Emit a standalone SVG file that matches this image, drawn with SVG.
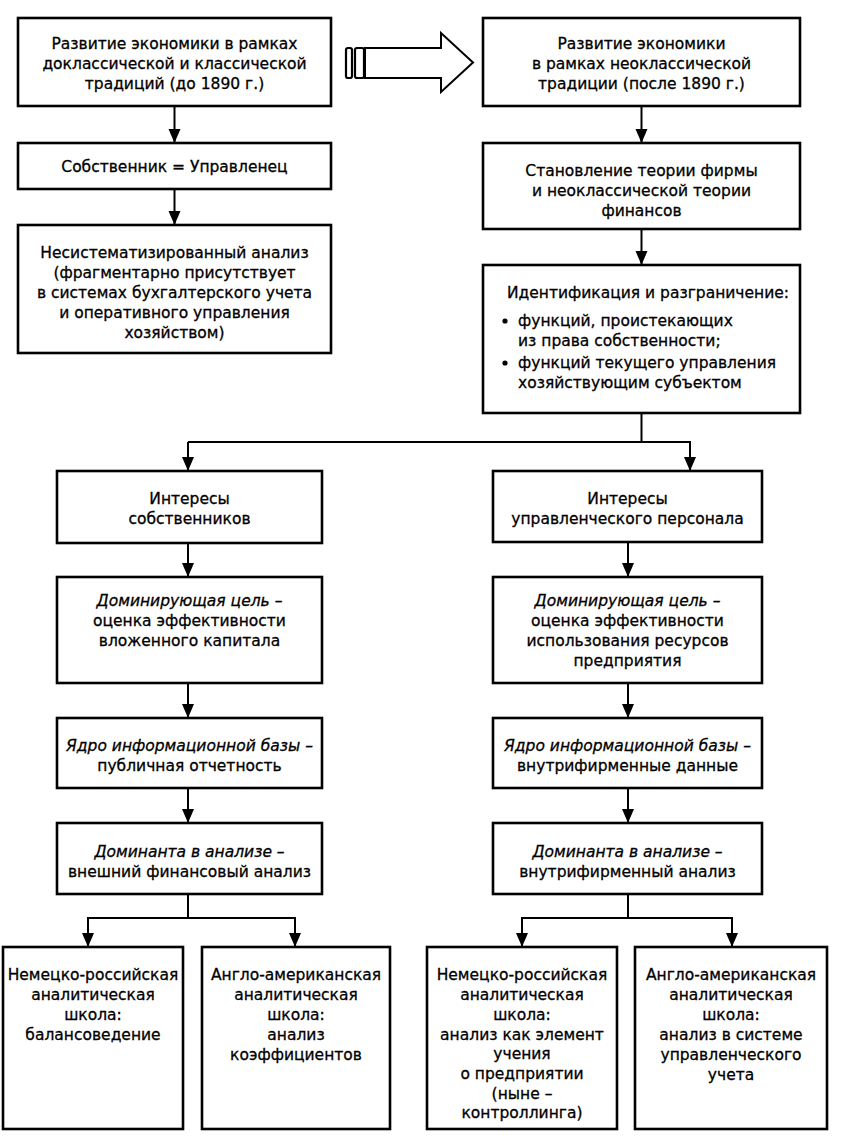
<svg xmlns="http://www.w3.org/2000/svg" width="843" height="1146" viewBox="0 0 843 1146">
<defs>
<style>
.box{fill:#fff;stroke:#000;stroke-width:2.6}
.t{font-family:"DejaVu Sans","Liberation Sans",sans-serif;font-size:15.5px;fill:#000;stroke:#000;stroke-width:0.3;text-anchor:middle}
.i{font-style:italic}
.l{text-anchor:start}
.c{fill:none;stroke:#000;stroke-width:2}
</style>
<marker id="ah" markerUnits="userSpaceOnUse" markerWidth="16" markerHeight="14" refX="14" refY="6" orient="auto" viewBox="0 0 16 14">
<path d="M0,0 L14,6 L0,12 z" fill="#000"/>
</marker>
</defs>
<rect width="843" height="1146" fill="#fff"/>

<g id="connectors">
<line class="c" x1="174.5" y1="106" x2="174.5" y2="143" marker-end="url(#ah)"/>
<line class="c" x1="174.5" y1="189" x2="174.5" y2="225" marker-end="url(#ah)"/>
<line class="c" x1="641.5" y1="106" x2="641.5" y2="143" marker-end="url(#ah)"/>
<line class="c" x1="641.5" y1="229" x2="641.5" y2="265" marker-end="url(#ah)"/>
<polyline class="c" points="641.5,413 641.5,442 188,442"/>
<line class="c" x1="188" y1="442" x2="188" y2="471" marker-end="url(#ah)"/>
<line class="c" x1="641.5" y1="442" x2="690" y2="442"/>
<line class="c" x1="690" y1="441" x2="690" y2="471" marker-end="url(#ah)"/>
<line class="c" x1="188" y1="543" x2="188" y2="577" marker-end="url(#ah)"/>
<line class="c" x1="188" y1="683" x2="188" y2="718" marker-end="url(#ah)"/>
<line class="c" x1="188" y1="788" x2="188" y2="823" marker-end="url(#ah)"/>
<line class="c" x1="628" y1="542" x2="628" y2="577" marker-end="url(#ah)"/>
<line class="c" x1="628" y1="683" x2="628" y2="718" marker-end="url(#ah)"/>
<line class="c" x1="628" y1="788" x2="628" y2="823" marker-end="url(#ah)"/>
<polyline class="c" points="188,894 188,918 88,918 88,947" marker-end="url(#ah)"/>
<polyline class="c" points="188,918 295,918 295,947" marker-end="url(#ah)"/>
<polyline class="c" points="628,894 628,918 522,918 522,947" marker-end="url(#ah)"/>
<polyline class="c" points="628,918 732,918 732,947" marker-end="url(#ah)"/>
</g>

<g id="transition-arrow">
<rect x="346" y="48" width="6" height="30" rx="2" fill="#fff" stroke="#000" stroke-width="2.2"/>
<rect x="355" y="48" width="9" height="30" rx="2" fill="#fff" stroke="#000" stroke-width="2.2"/>
<polygon points="365,48 441,48 441,33 473,62.5 441,92 441,78 365,78" fill="#fff" stroke="#000" stroke-width="2" stroke-linejoin="miter"/>
</g>

<g id="n-classic">
<rect class="box" x="18" y="18" width="313" height="88"/>
<text class="t" x="174.5" y="49">Развитие экономики в рамках</text>
<text class="t" x="174.5" y="69">доклассической и классической</text>
<text class="t" x="174.5" y="89">традиций (до 1890 г.)</text>
</g>

<g id="n-owner-manager">
<rect class="box" x="18" y="143" width="313" height="46"/>
<text class="t" x="174.5" y="172">Собственник = Управленец</text>
</g>

<g id="n-unsystematic">
<rect class="box" x="18" y="225" width="313" height="128"/>
<text class="t" x="174.5" y="258">Несистематизированный анализ</text>
<text class="t" x="174.5" y="278">(фрагментарно присутствует</text>
<text class="t" x="174.5" y="298">в системах бухгалтерского учета</text>
<text class="t" x="174.5" y="318">и оперативного управления</text>
<text class="t" x="174.5" y="338">хозяйством)</text>
</g>

<g id="n-neoclassic">
<rect class="box" x="483" y="18" width="317" height="88"/>
<text class="t" x="641.5" y="49">Развитие экономики</text>
<text class="t" x="641.5" y="69">в рамках неоклассической</text>
<text class="t" x="641.5" y="89">традиции (после 1890 г.)</text>
</g>

<g id="n-theory">
<rect class="box" x="483" y="143" width="317" height="86"/>
<text class="t" x="641.5" y="176">Становление теории фирмы</text>
<text class="t" x="641.5" y="196">и неоклассической теории</text>
<text class="t" x="641.5" y="216">финансов</text>
</g>

<g id="n-identification">
<rect class="box" x="483" y="265" width="317" height="148"/>
<text class="t" x="648" y="298">Идентификация и разграничение:</text>
<circle cx="505" cy="321" r="2.6" fill="#000"/>
<text class="t l" x="518" y="326">функций, проистекающих</text>
<text class="t l" x="518" y="346">из права собственности;</text>
<circle cx="505" cy="363" r="2.6" fill="#000"/>
<text class="t l" x="518" y="368">функций текущего управления</text>
<text class="t l" x="518" y="388">хозяйствующим субъектом</text>
</g>

<g id="n-owners-interests">
<rect class="box" x="57" y="471" width="265" height="72"/>
<text class="t" x="189.5" y="504">Интересы</text>
<text class="t" x="189.5" y="524">собственников</text>
</g>

<g id="n-managers-interests">
<rect class="box" x="493" y="471" width="269" height="71"/>
<text class="t" x="627.5" y="504">Интересы</text>
<text class="t" x="627.5" y="524">управленческого персонала</text>
</g>

<g id="n-goal-left">
<rect class="box" x="57" y="577" width="265" height="106"/>
<text class="t i" x="189.5" y="606">Доминирующая цель –</text>
<text class="t" x="189.5" y="626">оценка эффективности</text>
<text class="t" x="189.5" y="646">вложенного капитала</text>
</g>

<g id="n-goal-right">
<rect class="box" x="493" y="577" width="269" height="106"/>
<text class="t i" x="627.5" y="606">Доминирующая цель –</text>
<text class="t" x="627.5" y="626">оценка эффективности</text>
<text class="t" x="627.5" y="646">использования ресурсов</text>
<text class="t" x="627.5" y="666">предприятия</text>
</g>

<g id="n-info-left">
<rect class="box" x="57" y="718" width="265" height="70"/>
<text class="t i" x="189.5" y="751">Ядро информационной базы –</text>
<text class="t" x="189.5" y="771">публичная отчетность</text>
</g>

<g id="n-info-right">
<rect class="box" x="493" y="718" width="269" height="70"/>
<text class="t i" x="627.5" y="751">Ядро информационной базы –</text>
<text class="t" x="627.5" y="771">внутрифирменные данные</text>
</g>

<g id="n-dom-left">
<rect class="box" x="57" y="823" width="265" height="71"/>
<text class="t i" x="189.5" y="857">Доминанта в анализе –</text>
<text class="t" x="189.5" y="877">внешний финансовый анализ</text>
</g>

<g id="n-dom-right">
<rect class="box" x="493" y="823" width="269" height="71"/>
<text class="t i" x="627.5" y="857">Доминанта в анализе –</text>
<text class="t" x="627.5" y="877">внутрифирменный анализ</text>
</g>

<g id="n-school-1">
<rect class="box" x="3" y="947" width="180" height="182"/>
<text class="t" x="93" y="980">Немецко-российская</text>
<text class="t" x="93" y="1000">аналитическая</text>
<text class="t" x="93" y="1020">школа:</text>
<text class="t" x="93" y="1040">балансоведение</text>
</g>

<g id="n-school-2">
<rect class="box" x="202" y="947" width="188" height="182"/>
<text class="t" x="296" y="980">Англо-американская</text>
<text class="t" x="296" y="1000">аналитическая</text>
<text class="t" x="296" y="1020">школа:</text>
<text class="t" x="296" y="1040">анализ</text>
<text class="t" x="296" y="1060">коэффициентов</text>
</g>

<g id="n-school-3">
<rect class="box" x="427" y="947" width="190" height="182"/>
<text class="t" x="522" y="980">Немецко-российская</text>
<text class="t" x="522" y="1000">аналитическая</text>
<text class="t" x="522" y="1020">школа:</text>
<text class="t" x="522" y="1040">анализ как элемент</text>
<text class="t" x="522" y="1059">учения</text>
<text class="t" x="522" y="1079">о предприятии</text>
<text class="t" x="522" y="1099">(ныне –</text>
<text class="t" x="522" y="1118">контроллинга)</text>
</g>

<g id="n-school-4">
<rect class="box" x="635" y="947" width="192" height="182"/>
<text class="t" x="731" y="980">Англо-американская</text>
<text class="t" x="731" y="1000">аналитическая</text>
<text class="t" x="731" y="1020">школа:</text>
<text class="t" x="731" y="1040">анализ в системе</text>
<text class="t" x="731" y="1060">управленческого</text>
<text class="t" x="731" y="1080">учета</text>
</g>
</svg>
